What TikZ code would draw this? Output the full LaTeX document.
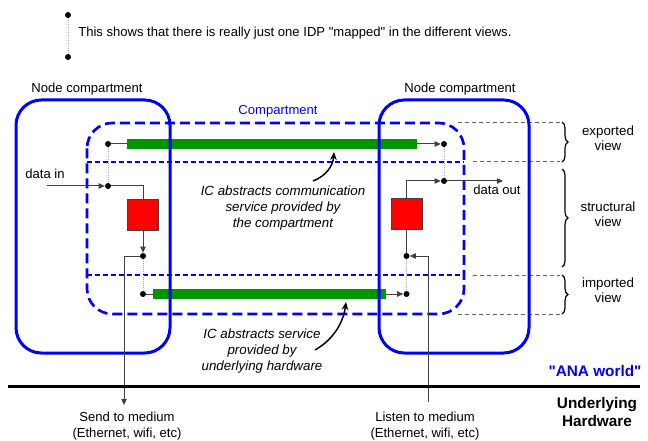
\documentclass[tikz,border=0pt]{standalone}
\usepackage{fontspec}
\setmainfont{Liberation Sans}[Ligatures=TeXOff]
\usetikzlibrary{arrows.meta,decorations.pathreplacing}
\definecolor{anablue}{RGB}{0,0,255}
\definecolor{bargreen}{RGB}{0,150,0}
\definecolor{linegray}{RGB}{64,64,64}
\begin{document}
\begin{tikzpicture}[x=0.75pt,y=-0.75pt,font=\fontsize{9.8}{11.5}\selectfont,
  dot/.style={circle,fill=black,inner sep=0pt,minimum size=4.5pt},
  conn/.style={draw=linegray,line width=0.75pt},
  arr/.style={conn,-{Triangle[length=4.5pt,width=4pt]}},
  idp/.style={draw=gray!70,line width=0.75pt,dash pattern=on 0.75pt off 0.75pt},
  nodebox/.style={draw=anablue,line width=2.25pt,rounded corners=19pt},
  compbox/.style={draw=anablue,line width=2pt,dash pattern=on 7.5pt off 3.75pt,rounded corners=19pt},
  viewline/.style={draw=anablue,line width=1pt,dash pattern=on 3.75pt off 2.25pt},
  guide/.style={draw=gray!80!black,line width=0.75pt,dash pattern=on 3pt off 2.25pt},
  bar/.style={fill=bargreen,draw=none,minimum height=7.5pt,inner sep=0pt},
  proc/.style={fill=red,draw=linegray,line width=0.75pt,minimum size=23.25pt,inner sep=0pt},
  lbl/.style={align=center,inner sep=0pt},
  iclbl/.style={lbl,font=\fontsize{10}{12}\selectfont\itshape},
  icarrow/.style={draw=black,line width=1.1pt,-{Stealth[length=6pt,width=5pt]}},
  brc/.style={draw=black,line width=0.9pt,decorate,decoration={brace,amplitude=4.5pt}}]
\useasboundingbox (0,0) rectangle (648,441);

% legend
\node[dot] (lg1) at (68,15) {};
\node[dot] (lg2) at (68,57) {};
\draw[idp] (lg1) -- (lg2);
\node[lbl,anchor=west] (lgt) at (78,33) {This shows that there is really just one IDP "mapped" in the different views.};

% labels
\node[lbl] (ncl) at (87,89) {Node compartment};
\node[lbl] (ncr) at (460,89) {Node compartment};
\node[lbl,text=anablue] (cmp) at (278,111) {Compartment};

% view lines
\draw[viewline] (87,162) -- (464,162);
\draw[viewline] (87,275) -- (464,275);
\draw[guide] (458,123) -- (560,123);
\draw[guide] (473,162) -- (560,162);
\draw[guide] (473,275) -- (560,275);
\draw[guide] (458,314) -- (560,314);

% compartment
\draw[compbox] (87,123) rectangle (464,314);

% green bars
\node[bar,minimum width=217.5pt] (barT) at (272,144) {};
\node[bar,minimum width=174.75pt] (barB) at (269.5,294) {};

% node compartments
\draw[nodebox] (16,100) rectangle (170,353);
\draw[nodebox] (379,100) rectangle (529,353);

% boxes and dots
\node[proc] (boxA) at (143,215) {};
\node[proc] (boxB) at (406.5,214.5) {};
\node[dot] (tA) at (108,144) {};
\node[dot] (iA) at (108,186) {};
\node[dot] (oA) at (143,256) {};
\node[dot] (bA) at (143,294) {};
\node[dot] (tB) at (444,144) {};
\node[dot] (oB) at (444,181) {};
\node[dot] (iB) at (406.5,256) {};
\node[dot] (bB) at (406.5,294) {};

\coordinate (din) at (47,186);
\coordinate (dout) at (503,181);
\coordinate (send) at (124,405);
\coordinate (listen) at (428,402);

% connectors
\draw[conn] (tA) -- (barT.west);
\draw[idp] (tA) -- (iA);
\draw[arr] (barT.east) -- (tB);
\draw[idp] (tB) -- (oB);
\draw[arr] (din) -- (iA);
\draw[conn] (iA) -| (boxA.north);
\draw[arr] (boxA.south) -- (oA);
\draw[idp] (oA) -- (bA);
\draw[conn] (bA) -- (barB.west);
\draw[arr] (oA) -| (send);
\draw[arr] (boxB.north) |- (oB);
\draw[arr] (oB) -- (dout);
\draw[conn] (boxB.south) -- (iB);
\draw[arr] (listen) |- (iB);
\draw[idp] (iB) -- (bB);
\draw[arr] (barB.east) -- (bB);

\node[lbl] (dinl) at (45,174) {data in};
\node[lbl] (doutl) at (497,190) {data out};

% IC labels
\node[iclbl] (ic1) at (283,208) {IC abstracts communication\\service provided by\\the compartment};
\node[iclbl] (ic2) at (262,351) {IC abstracts service\\provided by\\underlying hardware};
\coordinate (ic1s) at (313,181);
\coordinate (ic1e) at (334,152);
\coordinate (ic2s) at (315,350);
\coordinate (ic2e) at (346,302);
\draw[icarrow] (ic1s) .. controls (326,176) and (333,166) .. (ic1e);
\draw[icarrow] (ic2s) .. controls (331,341) and (343,325) .. (ic2e);

% braces
\draw[brc] (562,122) -- (562,162);
\draw[brc] (562,169) -- (562,267);
\draw[brc] (562,275) -- (562,314);
\node[lbl,font=\fontsize{10}{11.5}\selectfont] (ev) at (608,138) {exported\\view};
\node[lbl,font=\fontsize{10}{11.5}\selectfont] (sv) at (608,214) {structural\\view};
\node[lbl,font=\fontsize{10}{11.5}\selectfont] (iv) at (608,290) {imported\\view};

% hardware line
\coordinate (hl) at (8,386);
\coordinate (hr) at (640,386);
\draw[line width=2.25pt] (hl) -- (hr);
\node[lbl,text=anablue,font=\fontsize{11.5}{13.5}\selectfont\bfseries] (ana) at (595,371) {"ANA world"};
\node[lbl,font=\fontsize{11.5}{13.5}\selectfont\bfseries] (uh) at (597,412) {Underlying\\Hardware};
\node[lbl,font=\fontsize{9.8}{12}\selectfont] (sm) at (127,426) {Send to medium\\(Ethernet, wifi, etc)};
\node[lbl,font=\fontsize{9.8}{12}\selectfont] (lm) at (425,426) {Listen to medium\\(Ethernet, wifi, etc)};
\end{tikzpicture}
\end{document}
